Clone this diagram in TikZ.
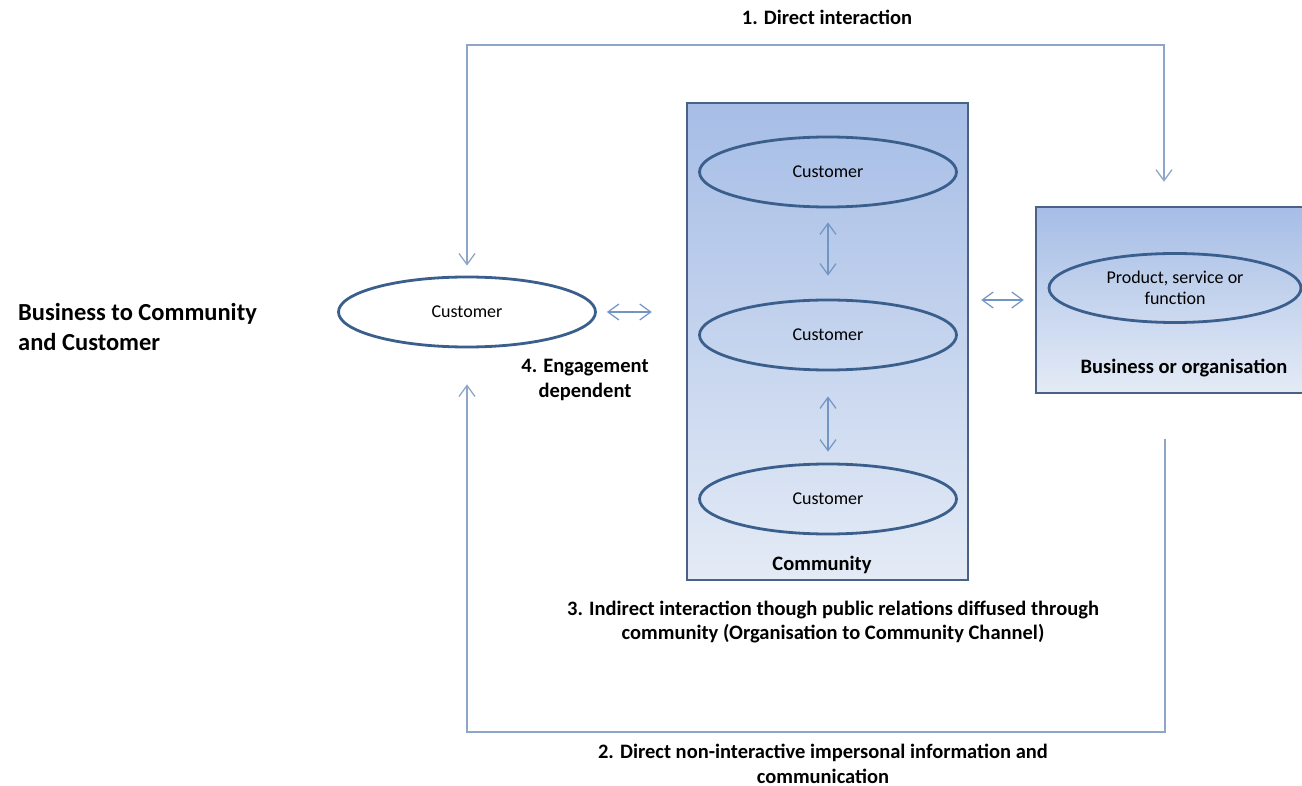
\documentclass[tikz,border=0pt]{standalone}
\usepackage{fontspec}
\setmainfont{Carlito}
\usetikzlibrary{arrows.meta,shapes.geometric}
\definecolor{edgeblue}{HTML}{3B5F8C}
\definecolor{boxedge}{HTML}{4A6285}
\definecolor{connblue}{HTML}{8EA7C8}
\definecolor{arrblue}{HTML}{7395C4}
\definecolor{shadetop}{HTML}{A6BDE6}
\definecolor{shadebot}{HTML}{E4EBF6}
\tikzset{
  custell/.style={ellipse, draw=edgeblue, line width=2.8pt, inner sep=0pt,
    minimum width=257pt, minimum height=70pt, font=\fontsize{18}{22}\selectfont},
  shadebox/.style={rectangle, draw=boxedge, line width=2.5pt, top color=shadetop,
    bottom color=shadebot, inner sep=0pt},
  conn/.style={draw=connblue, line width=1.3pt},
  dbl/.style={draw=arrblue, line width=1.2pt},
  barb/.tip={Straight Barb[length=11pt,width=16pt]},
  boldlab/.style={font=\bfseries\fontsize{20.5}{24.5}\selectfont, align=center, inner sep=0pt},
}
\begin{document}
\begin{tikzpicture}[x=1pt,y=-1pt]
\useasboundingbox (0,0) rectangle (1302,786);
% boxes
\node[shadebox, minimum width=281pt, minimum height=477pt] (comm) at (827.5,341.5) {};
\node[shadebox, minimum width=272pt, minimum height=186pt] (biz) at (1172,300) {};
% ellipses
\node[custell, fill=white] (cust) at (467,312) {Customer};
\node[custell] (c1) at (828,172) {Customer};
\node[custell] (c2) at (828,335) {Customer};
\node[custell] (c3) at (828,499) {Customer};
\node[custell, minimum width=252pt, minimum height=69pt, align=center] (prod) at (1175,288)
  {Product, service or\\[-1pt]function};
% labels
\node[boldlab] (lcomm) at (822,565) {Community};
\node[boldlab] (lbiz) at (1184,368) {Business or organisation};
\node[boldlab] (l1) at (827,17) {1. Direct interaction};
\node[boldlab] (l4) at (585,380) {4. Engagement\\dependent};
\node[boldlab] (l3) at (833,622) {3. Indirect interaction though public relations diffused through\\community (Organisation to Community Channel)};
\node[boldlab] (l2) at (823,764) {2. Direct non-interactive impersonal information and\\communication};
\node[anchor=west, inner sep=0pt, align=left, font=\bfseries\fontsize{24.5}{30}\selectfont] (title) at (18,327)
  {Business to Community\\and Customer};
% connector corners
\coordinate (tl) at (467,45);
\coordinate (tr) at (1164,45);
\coordinate (bl) at (467,732);
\coordinate (br) at (1165,732);
% top connector
\draw[conn, barb-barb, shorten <=10pt, shorten >=24pt]
  (cust.north) -- (tl) -- (tr) -- (tr |- biz.north);
% bottom connector
\draw[conn, -barb, shorten <=45pt, shorten >=36pt]
  (br |- biz.south) -- (br) -- (bl) -- (cust.south);
% double arrows
\draw[dbl, barb-barb, shorten <=10pt, shorten >=34pt] (cust.east) -- (cust.east -| comm.west);
\draw[dbl, barb-barb, shorten <=12pt, shorten >=11pt] (comm.east |- biz.west) -- (biz.west);
\draw[dbl, barb-barb, shorten <=14pt, shorten >=23pt] (c1.south) -- (c2.north);
\draw[dbl, barb-barb, shorten <=25pt, shorten >=11pt] (c2.south) -- (c3.north);
\end{tikzpicture}
\end{document}
